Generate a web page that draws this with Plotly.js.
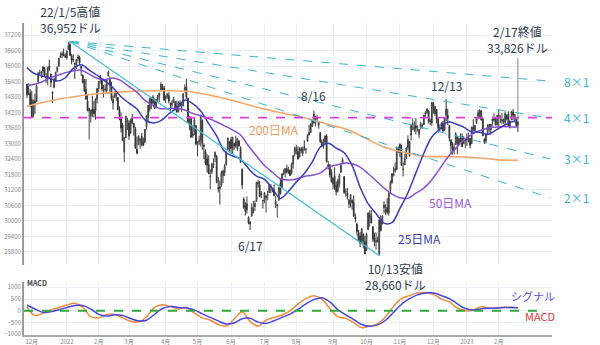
<!DOCTYPE html>
<html><head><meta charset="utf-8">
<script src="https://cdn.plot.ly/plotly-3.0.1.min.js"></script>
<style>html,body{margin:0;padding:0;background:#fff}#chart{width:600px;height:345px}</style>
</head><body><div id="chart"></div>
<script>
// ---------- DATA ----------
const startDate = '2021-11-26', endDate = '2023-02-17';
const holidays = ['2021-12-24','2022-01-17','2022-02-21','2022-04-15','2022-05-30','2022-06-20','2022-07-04','2022-09-05','2022-11-24','2022-12-26','2023-01-02','2023-01-16'];

const open = [
35300,35140,34960,
34710,34090,34650,34630,35380,35730,35730,35800,35930,35580,35500,36000,35690,34980,35170,35420,35790,35990,36330,36420,36470,36400,
36320,36640,36830,36390,36260,36110,36050,36350,36340,35990,35650,35420,35090,34650,34250,34040,34330,34330,34250,34710,
35130,35470,35450,35060,35110,35040,35620,35470,35220,34700,34780,34850,34780,34310,33970,33710,32660,33220,33850,
33800,33400,33990,33770,33570,32780,32950,33100,33280,33050,33050,33660,33990,34320,34750,34560,34680,34390,34710,34830,35040,35230,35160,
34740,34810,34860,34520,34500,34600,34600,34430,34230,34580,34400,34450,35000,35200,34750,33700,33960,33390,33440,33690,
32990,33050,33130,33900,32930,32690,32410,32190,31700,31900,32150,32480,32500,31290,31330,31380,31760,31860,32180,32760,33060,
33150,32770,32990,33060,32800,33090,32840,32000,30850,30560,30430,30130,29950,30180,30310,30560,30760,31480,31380,31050,30800,
30790,30890,31000,31090,31300,31250,31210,30640,30580,30800,31460,31290,31820,31870,32030,31890,31960,31850,32200,32590,
32700,32690,32470,32800,32610,32870,32750,33080,33420,33420,33660,33790,33960,33940,33850,33420,33050,32890,33050,33300,32170,32170,31900,
31420,31750,31380,31150,31440,31880,32210,31720,31120,31080,30640,30770,30800,30720,30150,29880,29520,29420,29160,29500,29200,
28860,29660,30100,30210,29780,29350,29200,29270,28730,30070,29880,30610,30350,30530,30310,31180,31480,31750,31940,32000,32790,
32960,32660,32010,32170,32430,32840,33080,33320,33730,33650,33690,33540,33350,33610,33700,33730,34140,34200,34260,33880,33790,
34560,34150,34310,33950,33570,33680,33780,33520,34330,34100,33700,33140,32900,32720,32960,33270,32960,33250,33260,32990,33120,
33200,33200,33200,32990,33630,33500,33780,34050,34000,34260,33950,33180,33100,33420,33560,33520,33860,33890,33890,33720,
34030,34050,33870,33830,33820,34070,34140,33670,33920,34220,34000,33950,33700];
const high = [
35300,35330,35100,
35040,34700,34930,35290,35760,35850,35800,35980,35960,35720,35980,36250,35700,35020,35530,35780,35990,36310,36530,36570,36680,36490,
36600,36934,36952,36460,36450,36130,36260,36450,36400,36000,35670,35500,35500,34900,34370,34300,34850,34650,34740,35150,
35410,35640,35490,35270,35290,35470,35820,35600,35390,34850,35030,35030,34800,34440,34200,33800,33230,34070,34000,
33900,33960,34150,33780,33650,33260,33320,33200,33410,33230,33560,34090,34490,34760,34770,34880,34740,34720,34880,34960,35370,35300,35230,
34870,34960,34980,34590,34680,34810,34650,34660,34640,34670,34560,34960,35290,35492,34770,34060,34040,33700,33990,33710,
33080,33300,34120,33920,33000,32770,32580,32540,32000,32260,32430,32690,32550,31710,31570,31950,31990,32200,32700,33220,33090,
33260,33250,33030,33300,33200,33130,32890,32040,30920,30730,30950,30180,30000,30670,30780,30790,31510,31590,31550,31150,30800,
31110,31000,31170,31430,31430,31290,31420,30960,30640,31300,31630,31830,32000,32040,32180,32100,31990,32260,32560,32880,
32950,32890,32850,32870,32880,33120,32820,33370,33720,33770,33940,34281,34080,34100,33870,33440,33150,33190,33310,33360,32320,32200,32000,
31690,32080,31530,31640,31830,32200,32460,31740,31260,31280,30830,31030,30840,31000,30290,29930,29660,29570,29730,29500,29420,
29550,30320,30410,30420,29790,29550,29560,29390,30080,30220,30230,30760,30650,30880,31100,31580,31850,32100,32270,32870,32880,
33010,32960,32260,32590,32850,33320,33100,33730,33980,33850,33990,33700,33560,33840,33780,34100,34250,34360,34290,33960,34600,
34600,34450,34320,34000,33740,33820,33870,34010,34712,34340,33700,33150,33050,33000,33440,33300,33220,33390,33390,33280,33150,
33390,33420,33210,33650,33940,33710,33990,34300,34310,34290,34000,33190,33380,33750,33760,33750,33960,34170,34000,34090,
34330,34080,34180,33970,34240,34130,34250,33890,34260,34340,34140,34000,33860];
const low = [
34770,34870,34400,
34006,34010,34150,34630,35380,35610,35540,35640,35610,35350,35260,35810,35180,34560,35140,35380,35750,35990,36320,36300,36380,36320,
36250,36640,36400,36070,36150,35500,35880,36200,36040,35620,35320,35000,34700,34250,33150,33810,34030,34000,33920,34550,
35000,35320,35020,34780,35000,34940,35600,34930,34660,34310,34760,34650,34280,33900,33430,33100,32273,33220,33520,
33140,33380,33740,33300,32800,32578,32950,32790,32890,32890,33020,33540,33860,34230,34330,34540,34340,34350,34600,34610,35030,35050,34670,
34560,34730,34550,34230,34340,34570,34290,34200,34200,34430,34220,34440,34980,34720,33790,33510,33230,33220,33320,32930,
32500,32930,32880,32760,32400,32160,31880,31810,31230,31820,32050,32280,31460,31110,30636,31320,31470,31740,32130,32760,32650,
32610,32600,32760,32830,32700,32870,32270,31240,30470,30210,30280,29870,29653,30180,30300,30390,30760,31290,30920,30890,30480,
30690,30330,30800,31090,31080,31110,30950,30500,30140,30800,31020,31290,31770,31680,31830,31820,31740,31800,32030,32500,
32570,32380,32470,32620,32510,32720,32600,33060,33310,33420,33640,33770,33660,33830,33570,33030,32880,32800,33000,32280,31990,31680,31500,
31230,31200,30990,31100,31300,31880,32210,31050,30940,30820,30500,30520,30430,30170,29950,29440,29210,28990,29100,28940,28710,
28850,29660,29780,29910,29190,29020,28890,29160,28660,29590,29880,30290,30220,30260,30210,31050,31440,31730,31870,31960,32640,
32470,32140,31730,32170,32400,32750,32500,33120,33510,33450,33350,33460,33200,33540,33570,33720,34020,34150,33770,33720,33690,
34150,34070,33780,33420,33460,33530,33460,33480,33860,33710,33080,32580,32570,32580,32960,32580,32930,33040,32870,32990,32820,
32910,33040,32810,32990,33480,33430,33780,33930,33960,33890,33290,32980,33000,33350,33420,33340,33660,33840,33700,33690,
33580,33790,33740,33760,33720,33900,33660,33580,33920,33900,33850,33640,33440];
const close = [
34899,35136,34484,
34022,34640,34580,35227,35720,35754,35755,35971,35651,35545,35928,35898,35365,34932,35493,35754,35951,36302,36398,36488,36398,36338,
36585,36799,36407,36236,36231,36068,36252,36290,36113,35912,35368,35029,34715,34265,34365,34298,34168,34160,34725,35132,
35405,35629,35111,35089,35091,35463,35768,35241,34738,34566,34989,34934,34312,34079,33597,33131,33224,34059,33893,
33295,33891,33795,33615,32818,32633,33286,33174,32944,32945,33545,34063,34481,34755,34553,34808,34359,34708,34862,34956,35294,35229,34678,
34818,34922,34641,34497,34584,34721,34309,34221,34565,34451,34412,34911,35161,34793,33811,34049,33240,33302,33916,32977,
33061,33129,34061,32998,32900,32246,32161,31834,31730,32197,32223,32655,31490,31254,31262,31880,31929,32120,32637,33213,32990,
32813,33248,32900,32916,33180,32910,32273,31393,30517,30365,30669,29927,29889,30530,30484,30677,31501,31439,30947,31029,30775,
31097,30968,31037,31385,31338,31174,30982,30773,30630,31289,31073,31828,31875,32037,31900,31991,31762,32198,32530,32845,
32798,32397,32813,32727,32803,32833,32775,33310,33336,33761,33913,34152,33981,33999,33707,33064,32910,32969,33292,32283,32099,31791,31510,
31656,31318,31145,31581,31775,32152,32381,31105,31135,30962,30822,31020,30706,30184,30077,29590,29261,29135,29684,29226,28726,
29490,30316,30274,29927,29297,29203,29239,29211,30039,29635,30186,30524,30424,30334,31083,31500,31837,31839,32034,32861,32733,
32653,32148,32001,32403,32827,33161,32514,33716,33748,33537,33593,33554,33547,33746,33700,34098,34195,34347,33850,33853,34590,
34395,34430,33947,33597,33598,33781,33477,34006,34109,33966,33203,32920,32758,32850,33377,33027,33204,33242,32876,33221,33147,
33136,33270,32930,33631,33518,33704,33974,34190,34303,33910,33297,33045,33375,33630,33734,33744,33949,33978,33717,34086,
34093,34054,33926,33891,34156,33949,33699,33869,34246,34089,34128,33697,33826];

const monthLabels = ['12月','2022','2月','3月','4月','5月','6月','7月','8月','9月','10月','11月','12月','2023','2月'];

// moving averages (trading-day index -> value)
const maIdx = [0,4,9,14,19,24,29,34,39,44,49,54,59,64,69,74,79,84,89,94,99,104,109,114,119,124,129,134,139,144,149,154,159,164,169,174,179,184,189,194,199,204,209,214,219,224,229,234,239,244,249,254,259,264,269,274,279,284,289,294,299,304,308];
const ma25 = [35931,35728,35623,35530,35416,35545,35908,36052,35842,35642,35418,35158,34809,34564,34334,33917,33793,33883,34151,34374,34678,34540,34258,33772,33291,32689,32517,32398,32028,31739,31613,31253,30875,31146,31508,31839,32287,32854,33011,32822,32639,32141,31314,30670,30291,29915,29936,30491,31095,31862,32624,33250,33564,33836,33756,33633,33444,33433,33350,33510,33689,33841,33840];
const ma50 = [35247,35281,35373,35535,35630,35738,35818,35838,35686,35529,35482,35533,35431,35203,34988,34668,34476,34346,34357,34354,34298,34166,34071,33962,33833,33684,33528,33328,32900,32515,32151,31885,31637,31587,31623,31726,31770,31864,32078,32165,32239,32214,32084,31840,31556,31277,31038,30903,30882,31076,31269,31593,32027,32465,32809,33128,33347,33498,33593,33633,33661,33643,33637];
const ma200Idx = [0,20,40,60,80,100,120,140,150,160,175,190,200,212,224,237,249,262,274,287,299,308];
const ma200 = [34440,34720,34900,35000,35040,35020,34800,34480,34320,34180,33980,33720,33560,33220,32860,32650,32510,32490,32480,32420,32355,32350];

// MACD panel
const macdIdx = [0,5,10,15,20,25,30,35,40,45,50,55,60,65,70,75,80,85,90,95,100,105,110,115,120,125,130,135,140,145,150,155,160,165,170,175,180,185,190,195,200,205,210,215,220,225,230,235,240,245,250,255,260,265,270,275,280,285,290,295,300,305,308];
const macd = [160,-200,-100,40,140,250,320,150,-250,-300,-150,-150,-300,-440,-470,-250,150,260,180,80,150,-100,-300,-400,-580,-650,-350,-50,-450,-650,-400,-280,-180,0,300,520,640,500,100,-250,-320,-500,-720,-650,-550,-250,200,520,650,760,770,700,500,380,120,0,30,180,110,130,150,140,120];
const signal = [240,80,-60,-40,50,140,230,230,80,-150,-220,-170,-200,-330,-430,-400,-150,100,190,140,120,40,-130,-280,-430,-560,-520,-340,-320,-480,-540,-420,-280,-140,60,300,480,560,380,50,-170,-370,-580,-660,-600,-400,-60,280,520,680,760,760,650,520,300,100,40,90,110,120,140,140,135];

// Gann fan (dollars per trading day) and support level
const fanNames = ['2×1','3×1','4×1','8×1'];
const fanSlopes = [20.1, 15.1, 9.85, 5.1];
const supportLevel = 34000;

// ---------- BUILD ----------
const dates = [];
{
  let d = new Date(startDate + 'T00:00:00Z');
  const end = new Date(endDate + 'T00:00:00Z');
  while (d <= end) {
    const wd = d.getUTCDay();
    const s = d.toISOString().slice(0, 10);
    if (wd !== 0 && wd !== 6 && !holidays.includes(s)) dates.push(s);
    d.setUTCDate(d.getUTCDate() + 1);
  }
}
[open, high, low, close].forEach(a => { if (a.length !== dates.length) throw new Error('length ' + a.length + ' vs ' + dates.length); });
const xi = dates.map((_, i) => i);
const tickvals = [];
for (let i = 1; i < dates.length; i++) if (dates[i].slice(0, 7) !== dates[i - 1].slice(0, 7)) tickvals.push(i);

const iHigh = high.indexOf(Math.max(...high)), maxHigh = high[iHigh];
const iLow = low.indexOf(Math.min(...low)), minLow = low[iLow];
const last = close.length - 1;
const iOf = s => dates.indexOf(s);
const fanEnd = 328;

const FONT = 'Noto Sans CJK JP, Noto Sans, sans-serif';
const traces = [];
traces.push({type:'scatter', mode:'lines', x:ma200Idx, y:ma200, line:{color:'#f5a76c', width:1.6, shape:'spline'}, hoverinfo:'skip'});
traces.push({type:'scatter', mode:'lines', x:maIdx, y:ma50, line:{color:'#8a4fd0', width:1.5, shape:'spline'}, hoverinfo:'skip'});
traces.push({type:'scatter', mode:'lines', x:maIdx, y:ma25, line:{color:'#3c3cbc', width:1.5, shape:'spline'}, hoverinfo:'skip'});
// fan lines
traces.push({type:'scatter', mode:'lines', x:[iHigh, iLow], y:[maxHigh, minLow], line:{color:'#3fc0d8', width:1.2}, hoverinfo:'skip'});
fanSlopes.forEach(s => traces.push({type:'scatter', mode:'lines', x:[iHigh, fanEnd], y:[maxHigh, maxHigh - s * (fanEnd - iHigh)], line:{color:'#3ab6d0', width:1, dash:'dash'}, hoverinfo:'skip'}));
traces.push({type:'candlestick', x:xi, open:open, high:high, low:low, close:close,
  increasing:{line:{color:'#444', width:1}, fillcolor:'#555'},
  decreasing:{line:{color:'#333', width:1}, fillcolor:'#333'},
  whiskerwidth:0, hoverinfo:'skip', xaxis:'x', yaxis:'y'});
// MACD
traces.push({type:'scatter', mode:'lines', x:macdIdx, y:macd, xaxis:'x', yaxis:'y2', line:{color:'#f28a3a', width:1.5, shape:'spline'}, hoverinfo:'skip'});
traces.push({type:'scatter', mode:'lines', x:macdIdx, y:signal, xaxis:'x', yaxis:'y2', line:{color:'#4646e0', width:1.5, shape:'spline'}, hoverinfo:'skip'});

const txt = '#323c50';
const ann = [
  {x:iHigh, y:maxHigh, text:'22/1/5高値<br>36,952ドル', showarrow:false, yanchor:'bottom', yshift:3, font:{size:12, color:txt}},
  {x:iOf('2022-08-16'), y:high[iOf('2022-08-16')], text:'8/16', showarrow:false, yanchor:'bottom', yshift:4, font:{size:12, color:txt}},
  {x:iOf('2022-12-13'), y:high[iOf('2022-12-13')], text:'12/13', showarrow:false, yanchor:'bottom', yshift:3, font:{size:12, color:txt}},
  {x:iOf('2022-06-17'), y:low[iOf('2022-06-17')], text:'6/17', showarrow:false, yanchor:'top', yshift:-5, font:{size:12, color:txt}},
  {x:iLow, y:minLow, text:'10/13安値<br>28,660ドル', showarrow:false, yanchor:'top', yshift:-2, xshift:16, font:{size:12, color:txt}},
  {x:last, y:close[last], text:'2/17終値<br>33,826ドル', showarrow:true, arrowhead:0, arrowwidth:1, arrowcolor:'#888', ax:0, ay:-64, yanchor:'bottom', font:{size:12, color:txt}},
  {x:155, y:33560, text:'200日MA', showarrow:false, font:{size:12, color:'#f0a060'}},
  {x:265.5, y:30700, text:'50日MA', showarrow:false, font:{size:12, color:'#9a58d6'}},
  {x:246.5, y:29340, text:'25日MA', showarrow:false, font:{size:12, color:'#3c3cb8'}},
  {xref:'paper', yref:'y2', x:1.0095, y:620, text:'シグナル', showarrow:false, font:{size:11, color:'#5a4fe2'}},
  {xref:'paper', yref:'y2', x:1.0095, y:-220, text:'MACD', showarrow:false, font:{size:11, color:'#e6333a'}},
  {xref:'paper', yref:'y2', x:0.002, y:1170, text:'<b>MACD</b>', showarrow:false, xanchor:'left', font:{size:7, color:'#444'}}
];
fanSlopes.forEach((s, k) => ann.push({x:fanEnd, y:maxHigh - s * (fanEnd - iHigh), text:fanNames[k], showarrow:false, xanchor:'left', xshift:12, font:{size:12, color:'#3ab6d0'}}));

const grid = '#edf0f4';
const layout = {
  width:600, height:345, margin:{l:24, r:48, t:23, b:10},
  paper_bgcolor:'#fff', plot_bgcolor:'#fff', showlegend:false,
  font:{family:FONT, color:txt},
  xaxis:{anchor:'y2', range:[-1.88, 329.4], tickvals:tickvals, ticktext:monthLabels, tickfont:{size:6, color:'#888'},
    showgrid:true, gridcolor:grid, showline:true, linecolor:'#aaa', linewidth:1.5, ticks:'', zeroline:false,
    rangeslider:{visible:false}, ticklen:0},
  yaxis:{domain:[0.2244, 1], range:[28296, 37665], tick0:28800, dtick:600, tickformat:'d', tickfont:{size:6, color:'#888'},
    showgrid:true, gridcolor:grid, showline:true, linecolor:'#999', linewidth:2, ticks:'', zeroline:false},
  yaxis2:{domain:[0, 0.1699], range:[-1030, 1230], tick0:-1000, dtick:500, tickformat:'d', tickfont:{size:6, color:'#888'},
    showgrid:true, gridcolor:grid, showline:true, linecolor:'#999', linewidth:2, ticks:'', zeroline:false},
  shapes:[
    {type:'line', xref:'paper', x0:0, x1:1, yref:'y', y0:supportLevel, y1:supportLevel, line:{color:'#e040e0', width:1.6, dash:'dash'}},
    {type:'line', xref:'paper', x0:0, x1:0.972, yref:'y2', y0:0, y1:0, line:{color:'#2eaa3a', width:2, dash:'dash'}}
  ],
  annotations:ann
};
Plotly.newPlot('chart', traces, layout, {staticPlot:true, displayModeBar:false});
</script>
</body></html>
